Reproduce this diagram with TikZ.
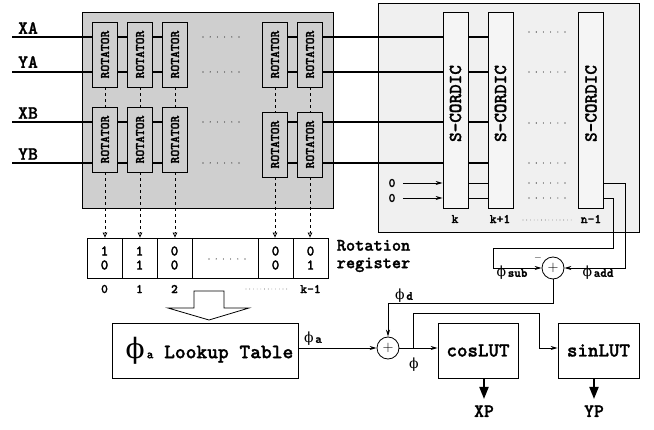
\documentclass[tikz,border=0pt]{standalone}
\usepackage{fontspec}
\setmonofont[Extension=.otf, UprightFont=lmmonolt10-bold, BoldFont=lmmonolt10-bold,
  BoldFeatures={FakeBold=1.3}]{lmmonolt10}
\newfontfamily\grk{DejaVu Serif}
\usetikzlibrary{arrows.meta,positioning}
\newcommand{\philbl}[1]{{\grk\mdseries\fontsize{14}{14}\selectfont ϕ}\,{\ttfamily\bfseries\fontsize{12.5}{12.5}\selectfont #1}}

\begin{document}
\begin{tikzpicture}[x=1pt, y=-1pt, line width=0.8pt,
  font=\ttfamily\bfseries,
  panel/.style={draw, inner sep=0pt},
  rotbox/.style={draw, fill=black!19, minimum width=25pt, minimum height=65pt,
    inner sep=0pt, font=\ttfamily\bfseries\fontsize{13}{13}\selectfont},
  scbox/.style={draw, fill=black!4, minimum width=25pt, minimum height=196pt, inner sep=0pt},
  sctext/.style={rotate=90, inner sep=0pt, font=\ttfamily\bfseries\fontsize{18.3}{18}\selectfont},
  cell/.style={draw, minimum height=40pt, inner sep=0pt, align=center,
    font=\ttfamily\bfseries\fontsize{14.8}{14}\selectfont},
  lut/.style={draw, minimum height=55pt, inner sep=0pt,
    font=\ttfamily\bfseries\fontsize{20}{20}\selectfont},
  adder/.style={draw, circle, minimum size=22pt, inner sep=0pt, fill=white,
    font=\fontsize{14}{14}\selectfont},
  io/.style={inner sep=0pt, font=\ttfamily\bfseries\fontsize{18.8}{19}\selectfont},
  idx/.style={inner sep=0pt, font=\ttfamily\bfseries\fontsize{13}{13}\selectfont},
  angle/.style={inner sep=0pt},
  wire/.style={draw, line width=1.4pt},
  arr/.style={draw, -{Stealth[length=7pt,width=4pt]}},
  tap/.style={draw, dash pattern=on 3pt off 3pt, -{Triangle[open,length=5pt,width=4.5pt]}},
  outarr/.style={draw, line width=2pt, -{Triangle[length=12pt,width=9pt]}},
  gap/.style={draw, line width=1.1pt, line cap=round, dash pattern=on 0pt off 7.2pt},
  finegap/.style={draw, line width=0.6pt, line cap=round, dash pattern=on 0pt off 3.7pt}]
  \useasboundingbox (0,0) rectangle (654,430);

  % the two banks
  \node[panel, fill=black!19, minimum width=251pt, minimum height=196pt] (rotbank) at (207.5,110) {};
  \node[panel, fill=black!6, minimum width=261pt, minimum height=229pt] (scbank) at (508.5,117.5) {};

  % rotators
  \foreach \c/\x in {1/105,2/140,3/175,4/275,5/310}
    \node[rotbox] (r1\c) at (\x,54.5) {\rotatebox{90}{ROTATOR}};
  \foreach \c/\x/\y in {1/105/139.5,2/140/139.5,3/175/139.5,4/275/144.5,5/310/144.5}
    \node[rotbox] (r2\c) at (\x,\y) {\rotatebox{90}{ROTATOR}};

  % s-cordic stages
  \foreach \n/\x in {1/455.5,2/500.5,3/591} {
    \node[scbox] (sc\n) at (\x,110) {};
    \node[sctext] (sctxt\n) at ([yshift=6.5pt]sc\n.center) {S\textendash CORDIC};
  }

  % inputs
  \foreach \s/\t/\y/\ly in {xa/XA/37/28, ya/YA/72/62, xb/XB/122/113, yb/YB/163/154} {
    \coordinate (\s) at (12,\y);
    \node[io] (\s lbl) at (28,\ly) {\t};
  }
  \foreach \s/\r in {xa/1,ya/1,xb/2,yb/2}
    \draw[wire] (\s) -- (\s -| r\r1.west)
      (\s -| r\r1.east) -- (\s -| r\r2.west)
      (\s -| r\r2.east) -- (\s -| r\r3.west)
      (\s -| r\r4.east) -- (\s -| r\r5.west)
      (\s -| r\r5.east) -- (\s -| sc1.west)
      (\s -| sc1.east) -- (\s -| sc2.west);
  \foreach \y in {37,72,122,163}
    \draw[gap] (203,\y) -- (239.5,\y);
  \foreach \y in {32,72,123,163,183,198}
    \draw[gap] (529,\y) -- (566.5,\y);

  % zero inputs and stage outputs
  \node[idx] (zero1) at (392,183) {0};
  \node[idx] (zero2) at (392,198) {0};
  \foreach \z in {zero1,zero2} {
    \draw[arr] ([xshift=7pt]\z.east) -- (\z -| sc1.west);
    \draw (\z -| sc1.east) -- (\z -| sc2.west);
  }
  \node[idx] (colk) at (455,219) {k};
  \node[idx] (colk1) at (500,219) {k+1};
  \node[idx] (coln) at (591,219) {n-1};
  \draw[finegap] (523,220) -- (573,220);

  \node[adder] (add1) at (553,268) {$+$};
  \node (minus) at (538,258) {$-$};
  \draw[arr] (zero1 -| sc3.east) -- ++(21,0) |- (add1.east);
  \draw[arr] (zero2 -| sc3.east) -- ++(9,0) -- ++(0,50) -| ++(-120,20) -- (add1.west);
  \node[angle] (phisub) at (512,273) {\philbl{sub}};
  \node[angle] (phiadd) at (598,273) {\philbl{add}};

  % register
  \node[cell, minimum width=35pt] (reg1) at (104.5,258) {1\\0};
  \node[cell, minimum width=35pt] (reg2) at (139.5,258) {1\\1};
  \node[cell, minimum width=35pt] (reg3) at (174.5,258) {0\\0};
  \node[cell, minimum width=66pt] (regdots) at (225,258) {};
  \node[cell, minimum width=35pt] (reg4) at (275.5,258) {0\\0};
  \node[cell, minimum width=35pt] (reg5) at (310.5,258) {0\\1};
  \draw[gap] (209,259) -- (245.5,259);
  \node[io, anchor=west, align=left, font=\ttfamily\bfseries\fontsize{17.5}{17.5}\selectfont,
    right=8pt of reg5, yshift=2pt] (reglbl) {Rotation\\register};
  \foreach \c in {1,...,5} {
    \draw[dash pattern=on 3pt off 3pt] (r1\c.south) -- (r2\c.north);
    \draw[tap] (r2\c.south) -- (r2\c.south |- reg\c.north);
  }
  \foreach \c/\t in {1/0,2/1,3/2,5/k-1}
    \node[idx] (ix\c) at (reg\c.south |- 0,289) {\t};
  \draw[finegap] (246,289) -- (287,289);

  % lookup
  \draw[fill=white] (194,291) -- (224,291) -- (224,308) -- (249,308) -- (209,320)
    -- (168,308) -- (194,308) -- cycle;
  \node[draw, minimum width=186pt, minimum height=55pt, inner sep=0pt,
    font=\ttfamily\bfseries\fontsize{20.5}{20}\selectfont] (lookup) at (205,350.5)
    {\hspace*{9pt}{\grk\mdseries\fontsize{28}{28}\selectfont ϕ}{\fontsize{12.5}{12}\selectfont\,a} Lookup Table};
  \node[adder] (add2) at (388,348) {$+$};
  \draw[arr] (lookup.east |- add2) -- (add2.west);
  \node[angle] (phia) at (313,339) {\philbl{a}};
  \draw[arr] (add1.south) -- ++(0,24) -| (add2.north);
  \node[angle] (phid) at (404,296) {\philbl{d}};

  % sine / cosine
  \node[lut, minimum width=80pt] (cos) at (478,350.5) {cosLUT};
  \node[lut, minimum width=81pt] (sin) at (598.5,350.5) {sinLUT};
  \coordinate (br) at ([xshift=14pt]add2.east);
  \draw[arr] (add2.east) -- (add2.east -| cos.west);
  \draw[arr] (br) -- ++(0,-35) -| ++(126,35) -- (br -| sin.west);
  \node[angle] (phiout) at (414,365) {\grk\mdseries\fontsize{14}{14}\selectfont ϕ};
  \coordinate (xp) at (484,399);
  \coordinate (yp) at (594,399);
  \draw[outarr] (xp |- cos.south) -- (xp);
  \draw[outarr] (yp |- sin.south) -- (yp);
  \node[io, below=6pt of xp] (xplbl) {XP};
  \node[io, below=6pt of yp] (yplbl) {YP};
\end{tikzpicture}
\end{document}
